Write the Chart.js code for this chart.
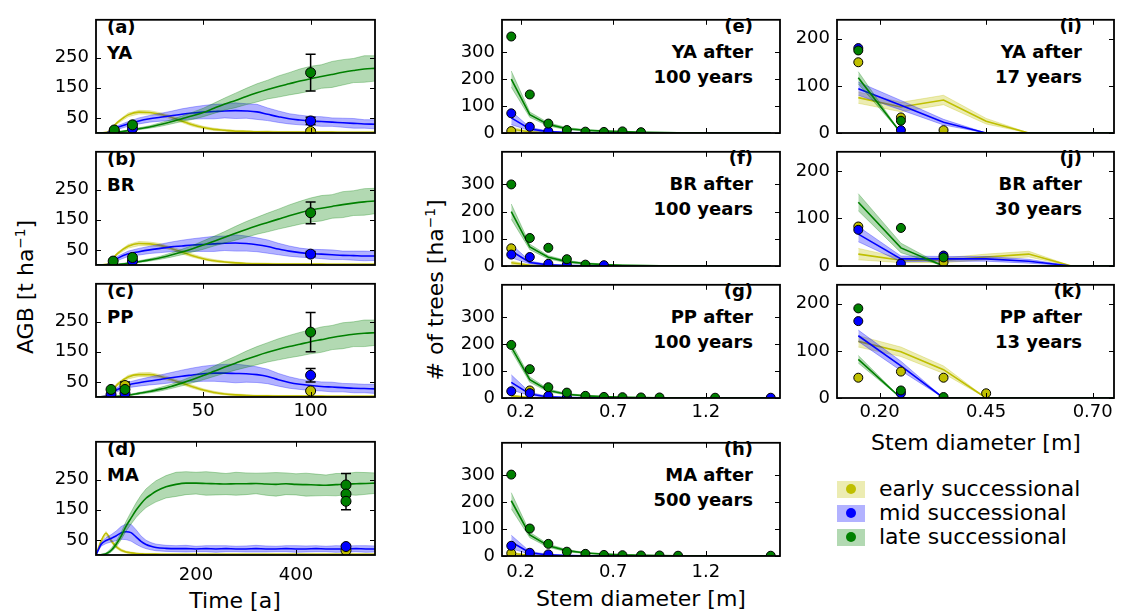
<!DOCTYPE html>
<html>
<head>
<meta charset="utf-8">
<script src="https://cdn.jsdelivr.net/npm/chart.js@4.4.1/dist/chart.umd.min.js"></script>
<style>
  body { margin:0; width:1121px; height:615px; background:#fff; position:relative; overflow:hidden; font-family:"DejaVu Sans", sans-serif; color:#000; }
  .panel { position:absolute; }
  .tag { position:absolute; font-weight:bold; font-size:18px; line-height:25.5px; white-space:nowrap; }
  .tag.r { text-align:right; }
  .title { position:absolute; font-size:22px; white-space:nowrap; transform:translate(-50%,-50%); }
  .title.rot { transform:translate(-50%,-50%) rotate(-90deg); }
  sup { font-size:0.62em; }
  .leg { position:absolute; left:837px; height:24px; width:280px; font-size:22px; line-height:24px; white-space:nowrap; }
  .leg .patch { position:absolute; left:0; top:3.5px; width:28px; height:17px; }
  .leg .dot { position:absolute; left:9px; top:7px; width:10px; height:10px; border-radius:50%; }
  .leg .txt { position:absolute; left:42px; top:0; }
</style>
</head>
<body>

<div class="tag" style="left:107px;top:14px">(a)<br>YA</div>
<div class="tag" style="left:107px;top:146px">(b)<br>BR</div>
<div class="tag" style="left:107px;top:278px">(c)<br>PP</div>
<div class="tag" style="left:107px;top:436px">(d)<br>MA</div>

<div class="tag r" style="right:368px;top:13px">(e)<br>YA after<br>100 years</div>
<div class="tag r" style="right:368px;top:145px">(f)<br>BR after<br>100 years</div>
<div class="tag r" style="right:368px;top:278px">(g)<br>PP after<br>100 years</div>
<div class="tag r" style="right:368px;top:436px">(h)<br>MA after<br>500 years</div>

<div class="tag r" style="right:39px;top:13px">(i)<br>YA after<br>17 years</div>
<div class="tag r" style="right:39px;top:145px">(j)<br>BR after<br>30 years</div>
<div class="tag r" style="right:39px;top:278px">(k)<br>PP after<br>13 years</div>

<div class="title rot" style="left:25px;top:287px">AGB [t ha<sup>−1</sup>]</div>
<div class="title rot" style="left:435px;top:290px"># of trees [ha<sup>−1</sup>]</div>
<div class="title" style="left:235px;top:600px">Time [a]</div>
<div class="title" style="left:641px;top:598px">Stem diameter [m]</div>
<div class="title" style="left:976px;top:442px">Stem diameter [m]</div>

<div class="leg" style="top:477px"><span class="patch" style="background:rgba(191,191,0,0.3)"></span><span class="dot" style="background:#bfbf00"></span><span class="txt">early successional</span></div>
<div class="leg" style="top:501px"><span class="patch" style="background:rgba(0,0,255,0.3)"></span><span class="dot" style="background:#0000ff"></span><span class="txt">mid successional</span></div>
<div class="leg" style="top:525px"><span class="patch" style="background:rgba(0,128,0,0.3)"></span><span class="dot" style="background:#008000"></span><span class="txt">late successional</span></div>

<script>
// ---- simulated AGB over time (mean and spread), panels a-c ----
const years = [0,5,10,15,20,25,30,35,40,45,50,55,60,65,70,75,80,85,90,95,100,105,110,115,120,125,130];

const yaEarly   = [0,2,35,60,69,68,62,52,40,27,18,12,9,6,5,4,4,3,3,3,3,3,3,2,2,2,2];
const yaEarlySd = [0,1,4,6,6,6,5,6,5,5,4,4,3,3,3,2,3,2,2,2,2,2,2,2,2,2,2];
const yaMid     = [0,1,18,30,40,47,52,57,62,66,69,71,73,74,73,70,62,54,47,43,40,38,36,34,32,30,29];
const yaMidSd   = [0,1,6,8,10,11,13,15,18,20,22,24,23,26,24,25,21,19,17,16,15,16,14,15,16,14,15];
const yaLate    = [0,0,3,8,14,20,28,37,47,57,68,82,96,108,121,133,144,154,163,172,180,187,194,201,207,212,214];
const yaLateSd  = [0,0,1,2,3,4,6,7,9,12,14,17,20,24,27,30,31,35,37,40,41,39,43,42,40,44,42];

const brEarly   = [0,2,38,62,71,70,65,55,43,31,21,14,10,7,5,4,4,3,3,3,3,3,2,2,2,2,2];
const brEarlySd = [0,1,4,6,7,6,6,5,6,5,4,4,3,3,2,3,2,2,2,2,2,2,2,2,2,2,2];
const brMid     = [0,1,22,37,44,50,55,60,63,66,68,70,72,73,71,67,61,53,46,41,38,36,34,32,31,30,30];
const brMidSd   = [0,1,7,9,11,12,14,16,19,21,23,25,24,27,25,23,22,19,17,15,14,15,16,14,15,16,15];
const brLate    = [0,0,2,6,11,17,24,33,43,54,66,79,92,105,118,130,141,152,163,173,182,188,194,200,205,209,212];
const brLateSd  = [0,0,1,2,3,4,5,7,9,11,14,16,19,23,26,28,31,33,36,38,40,42,39,43,41,44,42];

const ppEarly   = [0,3,42,66,74,74,68,58,46,34,23,15,10,7,5,4,4,3,3,3,3,3,2,2,2,2,2];
const ppEarlySd = [0,1,5,6,6,7,6,6,5,5,4,4,3,3,3,2,2,2,2,2,2,2,2,2,2,2,2];
const ppMid     = [0,2,25,40,47,53,58,64,69,73,77,79,79,78,77,74,68,57,48,42,38,35,33,31,29,28,27];
const ppMidSd   = [0,1,7,9,11,13,15,17,20,23,25,27,29,31,28,26,24,21,19,17,16,15,16,14,15,14,15];
const ppLate    = [0,0,2,6,12,18,26,35,46,58,71,85,99,112,125,137,148,158,167,175,183,190,197,203,208,211,213];
const ppLateSd  = [0,0,1,2,3,4,6,7,9,11,14,17,20,23,27,30,32,35,37,39,40,42,40,43,41,44,42];

// ---- panel d, long run ----
const yearsMA = [0,10,20,30,40,50,60,70,80,90,100,110,120,140,160,180,200,220,240,260,280,300,320,340,360,380,400,420,440,460,480,500,520,540,558];
const maEarly   = [0,45,72,48,28,16,10,7,5,4,3,3,3,2,2,2,2,2,2,2,2,2,2,2,2,2,2,2,2,2,2,2,2,2,2];
const maEarlySd = [0,6,6,6,5,4,3,3,2,2,2,2,2,2,2,2,2,2,2,2,2,2,2,2,2,2,2,2,2,2,2,2,2,2,2];
const maMid     = [0,35,48,55,63,73,77,74,60,45,35,29,25,22,21,21,20,21,20,21,20,20,21,20,20,21,20,20,21,20,20,20,21,20,20];
const maMidSd   = [0,6,10,12,16,21,26,28,24,18,14,12,11,10,10,11,9,10,11,10,9,10,11,10,9,10,11,10,10,9,11,10,10,11,10];
const maLate    = [0,1,4,15,35,62,95,122,148,170,188,200,211,226,234,238,238,237,236,235,236,236,237,235,234,236,234,233,232,231,233,235,236,237,238];
const maLateSd  = [0,1,3,6,9,12,16,20,24,28,31,33,35,37,40,38,36,39,37,35,38,36,34,37,39,36,35,38,36,34,37,35,38,36,34];

// ---- field observations of AGB (value, error half-width) ----
const yaObsT = [8.5, 17, 100];
const yaObsEarly = [null, null, 5],  yaErrEarly = [0, 0, 7];
const yaObsMid   = [5, 15, 40],      yaErrMid   = [0, 0, 12];
const yaObsLate  = [10, 27, 200],    yaErrLate  = [0, 0, 61];

const brObsT = [8, 17, 100];
const brObsEarly = [null, null, null], brErrEarly = [0, 0, 0];
const brObsMid   = [null, 13, 36],     brErrMid   = [0, 0, 9];
const brObsLate  = [13, 25, 173],      brErrLate  = [0, 0, 36];

const ppObsT = [7, 13.5, 100];
const ppObsEarly = [null, 38, 20], ppErrEarly = [0, 12, 0];
const ppObsMid   = [8, 12, 72],    ppErrMid   = [0, 0, 22];
const ppObsLate  = [25, 25, 215],  ppErrLate  = [0, 0, 65];

const maObsT = [500, 500, 500];
const maObsEarly = [15, null, null], maErrEarly = [0, 0, 0];
const maObsMid   = [28, null, null], maErrMid   = [5, 0, 0];
const maObsLate  = [232, 202, 178],  maErrLate  = [38, 30, 28];

// ---- stem diameter distributions, panels e-h ----
const dbh = [0.15,0.25,0.35,0.45,0.55,0.65,0.75,0.85,0.95,1.05,1.15,1.25,1.35,1.45,1.55];

const eEarly = [15,4,1,0,0,0,0,0,0,0,0,0,0,0,0],        eEarlySd = [7,2,1,0,0,0,0,0,0,0,0,0,0,0,0];
const eMid   = [56,15,5,2,1,0,0,0,0,0,0,0,0,0,0],       eMidSd   = [25,6,2,1,1,0,0,0,0,0,0,0,0,0,0];
const eLate  = [200,68,32,16,10,7,5,3,2,1,1,0,0,0,0],   eLateSd  = [30,10,6,4,3,2,1,1,1,1,0,0,0,0,0];
const eObsEarly = [7,null,null,null,null,null,null,null,null,null,null,null,null,null,null];
const eObsMid   = [73,23,6,null,null,null,null,null,null,null,null,null,null,null,null];
const eObsLate  = [358,143,35,11,5,4,6,3,null,null,null,null,null,null,null];

const fEarly = [12,3,1,0,0,0,0,0,0,0,0,0,0,0,0],        fEarlySd = [6,2,1,0,0,0,0,0,0,0,0,0,0,0,0];
const fMid   = [55,13,4,2,1,0,0,0,0,0,0,0,0,0,0],       fMidSd   = [25,5,2,1,1,0,0,0,0,0,0,0,0,0,0];
const fLate  = [200,70,32,16,9,5,3,2,1,1,0,0,0,0,0],    fLateSd  = [28,10,6,4,3,2,1,1,1,0,0,0,0,0,0];
const fObsEarly = [65,null,null,null,null,null,null,null,null,null,null,null,null,null,null];
const fObsMid   = [42,33,8,5,null,3,null,null,null,null,null,null,null,null,null];
const fObsLate  = [300,103,67,25,5,null,null,null,null,null,null,null,null,null,null];

const gEarly = [8,2,0,0,0,0,0,0,0,0,0,0,0,0,0],         gEarlySd = [4,1,0,0,0,0,0,0,0,0,0,0,0,0,0];
const gMid   = [58,15,4,2,1,0,0,0,0,0,0,0,0,0,0],       gMidSd   = [28,6,2,1,0,0,0,0,0,0,0,0,0,0,0];
const gLate  = [190,68,28,14,8,5,3,2,1,1,0,0,0,0,0],    gLateSd  = [15,10,5,3,2,1,1,1,0,0,0,0,0,0,0];
const gObsEarly = [null,28,null,null,null,null,null,null,null,null,null,null,null,null,null];
const gObsMid   = [25,18,8,3,null,null,null,null,null,null,null,null,null,null,1];
const gObsLate  = [197,107,40,20,8,4,3,2,2,null,null,1,null,null,null];

const hEarly = [10,2,0,0,0,0,0,0,0,0,0,0,0,0,0],        hEarlySd = [5,1,0,0,0,0,0,0,0,0,0,0,0,0,0];
const hMid   = [52,12,4,2,1,0,0,0,0,0,0,0,0,0,0],       hMidSd   = [25,5,2,1,0,0,0,0,0,0,0,0,0,0,0];
const hLate  = [205,78,38,20,11,7,4,3,2,1,1,0,0,0,0],   hLateSd  = [30,10,6,4,2,1,1,1,0,0,0,0,0,0,0];
const hObsEarly = [10,5,null,null,null,null,null,null,null,null,null,null,null,null,null];
const hObsMid   = [38,12,6,null,null,null,null,null,null,null,null,null,null,null,null];
const hObsLate  = [302,102,45,16,8,4,3,2,2,1,null,null,null,null,1];

// ---- young stands, panels i-k ----
const dbhYoung = [0.15,0.25,0.35,0.45,0.55,0.65,0.75];

const iEarly = [75,55,70,25,0,0,0],   iEarlySd = [12,10,10,6,0,0,0];
const iMid   = [94,59,23,0,0,0,0],    iMidSd   = [14,10,6,0,0,0,0];
const iLate  = [117,0,0,0,0,0,0],     iLateSd  = [13,0,0,0,0,0,0];
const iObsEarly = [150,33,6,null,null,null,null];
const iObsMid   = [180,6,null,null,null,null,null];
const iObsLate  = [175,26,null,null,null,null,null];

const jEarly = [25,12,12,19,25,0,0],  jEarlySd = [12,5,5,6,6,0,0];
const jMid   = [67,15,15,15,10,0,0],  jMidSd   = [16,6,5,5,4,0,0];
const jLate  = [134,38,0,0,0,0,0],    jLateSd  = [18,10,0,0,0,0,0];
const jObsEarly = [83,null,8,null,null,null,null];
const jObsMid   = [76,5,22,null,null,null,null];
const jObsLate  = [null,80,18,null,null,null,null];

const kEarly = [120,98,60,0,0,0,0],   kEarlySd = [12,10,8,0,0,0,0];
const kMid   = [132,68,0,0,0,0,0],    kMidSd   = [12,10,0,0,0,0,0];
const kLate  = [82,0,0,0,0,0,0],      kLateSd  = [8,0,0,0,0,0,0];
const kObsEarly = [43,56,43,10,null,null,null];
const kObsMid   = [163,10,null,null,null,null,null];
const kObsLate  = [190,16,2,null,null,null,null];

// ---------------------------------------------------------------
const SPECIES = [
  { line: '#bfbf00', fill: 'rgba(191,191,0,0.3)' },
  { line: '#0000ff', fill: 'rgba(0,0,255,0.3)' },
  { line: '#008000', fill: 'rgba(0,128,0,0.3)' }
];
const PAD_L = 70, PAD_T = 6, PAD_R = 6, PAD_B = 34;
const TICK_FONT = { family: 'DejaVu Sans', size: 18 };

const framePlugin = {
  id: 'frame',
  beforeDatasetDraw(chart, args) {
    const ds = chart.data.datasets[args.index];
    if (!ds.err) return;
    const { ctx, scales: { x, y } } = chart;
    ctx.save();
    ctx.strokeStyle = '#000';
    ctx.lineWidth = 1.5;
    ds.data.forEach((p, i) => {
      const e = ds.err[i];
      if (p.y == null || !e) return;
      const px = x.getPixelForValue(p.x);
      const top = y.getPixelForValue(p.y + e);
      const bot = y.getPixelForValue(Math.max(0, p.y - e));
      ctx.beginPath();
      ctx.moveTo(px, top); ctx.lineTo(px, bot);
      ctx.moveTo(px - 5, top); ctx.lineTo(px + 5, top);
      ctx.moveTo(px - 5, bot); ctx.lineTo(px + 5, bot);
      ctx.stroke();
    });
    ctx.restore();
  },
  afterDraw(chart) {
    const { ctx, chartArea: a, scales: { x, y } } = chart;
    ctx.save();
    ctx.strokeStyle = '#000';
    ctx.lineWidth = 1;
    ctx.beginPath();
    x.ticks.forEach(t => {
      const p = Math.round(x.getPixelForValue(t.value)) + 0.5;
      ctx.moveTo(p, a.bottom); ctx.lineTo(p, a.bottom - 5);
      ctx.moveTo(p, a.top); ctx.lineTo(p, a.top + 5);
    });
    y.ticks.forEach(t => {
      const p = Math.round(y.getPixelForValue(t.value)) + 0.5;
      ctx.moveTo(a.left, p); ctx.lineTo(a.left + 5, p);
      ctx.moveTo(a.right, p); ctx.lineTo(a.right - 5, p);
    });
    ctx.stroke();
    ctx.lineWidth = 1.8;
    ctx.strokeRect(a.left, a.top, a.right - a.left, a.bottom - a.top);
    ctx.restore();
  }
};

function buildDatasets(xs, means, sds, obsX, obs, errs, radius, smooth) {
  const ds = [];
  means.forEach((m, k) => {
    const c = SPECIES[k];
    ds.push({ data: xs.map((x, i) => ({ x, y: Math.max(0, m[i] - sds[k][i]) })),
      borderColor: c.fill, borderWidth: 1, pointRadius: 0, fill: false });
    ds.push({ data: xs.map((x, i) => ({ x, y: m[i] + sds[k][i] })),
      borderColor: c.fill, borderWidth: 1, pointRadius: 0, backgroundColor: c.fill, fill: '-1' });
    ds.push({ data: xs.map((x, i) => ({ x, y: m[i] })),
      borderColor: c.line, borderWidth: 1.6, pointRadius: 0, fill: false,
      cubicInterpolationMode: smooth ? 'monotone' : 'default' });
  });
  obs.forEach((o, k) => {
    ds.push({ data: obsX.map((x, i) => ({ x, y: o[i] })), showLine: false, fill: false,
      pointRadius: radius, pointBorderWidth: 1, pointBorderColor: '#000',
      pointBackgroundColor: SPECIES[k].line, err: errs ? errs[k] : null });
  });
  ds.forEach((d, i) => { d.order = ds.length - i; d.clip = 0; });
  return ds;
}

function panel(box, xs, ys, datasets) {
  const W = box.w + PAD_L + PAD_R, H = box.h + PAD_T + PAD_B;
  const wrap = document.createElement('div');
  wrap.className = 'panel';
  Object.assign(wrap.style, { left: (box.l - PAD_L) + 'px', top: (box.t - PAD_T) + 'px', width: W + 'px', height: H + 'px' });
  const cv = document.createElement('canvas');
  cv.width = W; cv.height = H;
  wrap.appendChild(cv);
  document.body.appendChild(wrap);

  new Chart(cv, {
    type: 'line',
    data: { datasets },
    options: {
      responsive: false,
      animation: false,
      events: [],
      layout: { padding: { left: 0, top: PAD_T, right: PAD_R, bottom: 0 } },
      plugins: { legend: { display: false }, tooltip: { enabled: false } },
      scales: {
        x: {
          type: 'linear', min: xs.min, max: xs.max,
          grid: { display: false, drawTicks: false }, border: { display: false },
          afterBuildTicks: s => { s.ticks = xs.ticks.map(v => ({ value: v })); },
          afterFit: s => { s.height = PAD_B; },
          ticks: { display: xs.labels, autoSkip: false, maxRotation: 0, padding: xs.pad || 4,
            font: TICK_FONT, color: '#000', callback: xs.fmt }
        },
        y: {
          type: 'linear', min: ys.min, max: ys.max,
          grid: { display: false, drawTicks: false }, border: { display: false },
          afterBuildTicks: s => { s.ticks = ys.ticks.map(v => ({ value: v })); },
          afterFit: s => { s.width = PAD_L; },
          ticks: { autoSkip: false, padding: 7, font: TICK_FONT, color: '#000', callback: v => String(v) }
        }
      }
    },
    plugins: [framePlugin]
  });
}

// axes
const timeAxis = labels => ({ min: 0, max: 130, ticks: [50, 100], labels, fmt: v => String(v) });
const agbAxis = { min: 0, max: 375, ticks: [50, 150, 250] };
const dbhAxis = labels => ({ min: 0.1, max: 1.6, ticks: [0.2, 0.7, 1.2], labels, fmt: v => v.toFixed(1) });
const nAxis = { min: 0, max: 420, ticks: [0, 100, 200, 300] };
const youngAxis = labels => ({ min: 0.1, max: 0.75, ticks: [0.2, 0.45, 0.7], labels, fmt: v => v.toFixed(2) });
const nYoungAxis = { min: 0, max: 240, ticks: [0, 100, 200] };

const LEFT = 96, MID = 502, RIGHT = 837;

panel({ l: LEFT, t: 8, w: 279, h: 125 }, timeAxis(false), agbAxis,
  buildDatasets(years, [yaEarly, yaMid, yaLate], [yaEarlySd, yaMidSd, yaLateSd],
    yaObsT, [yaObsEarly, yaObsMid, yaObsLate], [yaErrEarly, yaErrMid, yaErrLate], 5, true));
panel({ l: LEFT, t: 140, w: 279, h: 125 }, timeAxis(false), agbAxis,
  buildDatasets(years, [brEarly, brMid, brLate], [brEarlySd, brMidSd, brLateSd],
    brObsT, [brObsEarly, brObsMid, brObsLate], [brErrEarly, brErrMid, brErrLate], 5, true));
panel({ l: LEFT, t: 272, w: 279, h: 125 }, timeAxis(true), agbAxis,
  buildDatasets(years, [ppEarly, ppMid, ppLate], [ppEarlySd, ppMidSd, ppLateSd],
    ppObsT, [ppObsEarly, ppObsMid, ppObsLate], [ppErrEarly, ppErrMid, ppErrLate], 5, true));
panel({ l: LEFT, t: 430, w: 279, h: 125 }, { min: 0, max: 558, ticks: [200, 400], labels: true, pad: 10, fmt: v => String(v) }, agbAxis,
  buildDatasets(yearsMA, [maEarly, maMid, maLate], [maEarlySd, maMidSd, maLateSd],
    maObsT, [maObsEarly, maObsMid, maObsLate], [maErrEarly, maErrMid, maErrLate], 5, true));

panel({ l: MID, t: 8, w: 278, h: 125 }, dbhAxis(false), nAxis,
  buildDatasets(dbh, [eEarly, eMid, eLate], [eEarlySd, eMidSd, eLateSd], dbh, [eObsEarly, eObsMid, eObsLate], null, 4.5, false));
panel({ l: MID, t: 140, w: 278, h: 126 }, dbhAxis(false), nAxis,
  buildDatasets(dbh, [fEarly, fMid, fLate], [fEarlySd, fMidSd, fLateSd], dbh, [fObsEarly, fObsMid, fObsLate], null, 4.5, false));
panel({ l: MID, t: 273, w: 278, h: 125 }, dbhAxis(true), nAxis,
  buildDatasets(dbh, [gEarly, gMid, gLate], [gEarlySd, gMidSd, gLateSd], dbh, [gObsEarly, gObsMid, gObsLate], null, 4.5, false));
panel({ l: MID, t: 431, w: 278, h: 125 }, Object.assign(dbhAxis(true), { pad: 6 }), nAxis,
  buildDatasets(dbh, [hEarly, hMid, hLate], [hEarlySd, hMidSd, hLateSd], dbh, [hObsEarly, hObsMid, hObsLate], null, 4.5, false));

panel({ l: RIGHT, t: 8, w: 277, h: 125 }, youngAxis(false), nYoungAxis,
  buildDatasets(dbhYoung, [iEarly, iMid, iLate], [iEarlySd, iMidSd, iLateSd], dbhYoung, [iObsEarly, iObsMid, iObsLate], null, 4.5, false));
panel({ l: RIGHT, t: 140, w: 277, h: 126 }, youngAxis(false), nYoungAxis,
  buildDatasets(dbhYoung, [jEarly, jMid, jLate], [jEarlySd, jMidSd, jLateSd], dbhYoung, [jObsEarly, jObsMid, jObsLate], null, 4.5, false));
panel({ l: RIGHT, t: 273, w: 277, h: 125 }, youngAxis(true), nYoungAxis,
  buildDatasets(dbhYoung, [kEarly, kMid, kLate], [kEarlySd, kMidSd, kLateSd], dbhYoung, [kObsEarly, kObsMid, kObsLate], null, 4.5, false));
</script>
</body>
</html>
